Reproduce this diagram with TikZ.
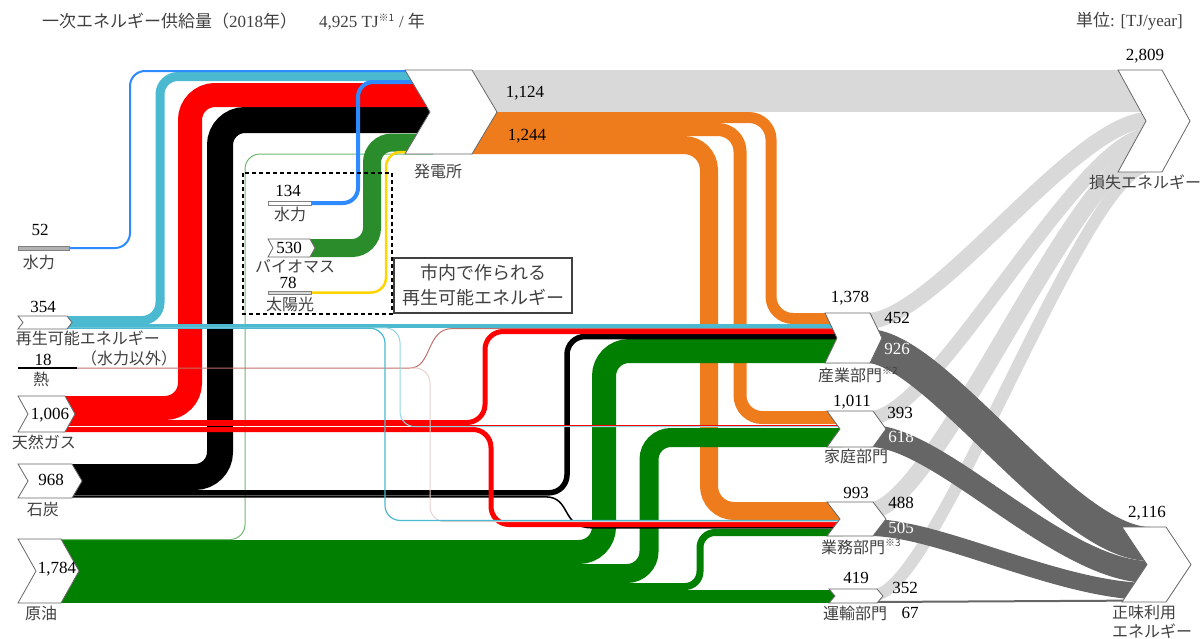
\documentclass[tikz,border=0pt]{standalone}
\usepackage{fontspec}
\setmainfont{Liberation Serif}
\newfontfamily\jp{Noto Sans CJK JP}
\definecolor{elec}{HTML}{EE7B1C}
\definecolor{gas}{HTML}{FF0000}
\definecolor{oil}{HTML}{007F00}
\definecolor{oilthin}{HTML}{6DB86D}
\definecolor{bio}{HTML}{2A8C2A}
\definecolor{renew}{HTML}{4BB9CF}
\definecolor{hydro}{HTML}{2E8BFF}
\definecolor{solar}{HTML}{FFD400}
\definecolor{heat}{HTML}{C0706A}
\definecolor{heatl}{HTML}{E8D0D0}
\definecolor{loss}{HTML}{D9D9D9}
\definecolor{net}{HTML}{666666}
\definecolor{txt}{HTML}{404040}
\tikzset{
 box/.style={draw=gray!80!black,fill=white,line width=0.8pt},
 num/.style={inner sep=0pt,font=\fontsize{17}{19}\selectfont},
 wnum/.style={num,text=white},
 jlbl/.style={inner sep=0pt,text=txt,font=\jp\fontsize{16}{19}\selectfont},
 }
% chevron: name, x, top, bottom, width, depth
\newcommand{\chevron}[6]{%
  \draw[box] (#2,#3) -- (#2+#5,#3) -- (#2+#5+#6,{(#3+#4)/2}) -- (#2+#5,#4)
    -- (#2,#4) -- (#2+#6,{(#3+#4)/2}) -- cycle;
  \coordinate (#1) at ({#2+#5/2},{(#3+#4)/2});}

\begin{document}
\begin{tikzpicture}[x=1pt,y=-1pt]
\useasboundingbox (0,0) rectangle (1204,638);
% power plant -> loss
\draw[loss,line width=42pt] (470,91) -- (1149,91);
% electricity
\draw[elec,line width=11pt,rounded corners=22pt] (470,117.5) -- (771,117.5) -- (771,318.5) -- (840,318.5);
\draw[elec,line width=13pt,rounded corners=22pt] (470,129.5) -- (740,129.5) -- (740,417.5) -- (843,417.5);
\draw[elec,line width=18pt,rounded corners=25pt] (470,145) -- (709,145) -- (709,511) -- (843,511);
% crude oil
\draw[oil,line width=24pt,rounded corners=25pt] (58,552) -- (604,552) -- (604,351) -- (840,351);
\draw[oil,line width=19pt,rounded corners=22pt] (58,573.5) -- (649,573.5) -- (649,437.5) -- (843,437.5);
\draw[oil,line width=7pt,rounded corners=15pt] (58,586.5) -- (700,586.5) -- (700,532.5) -- (843,532.5);
\draw[oil,line width=13pt] (58,596.5) -- (838,596.5);
% coal and gas to power plant
\draw[line width=26pt,rounded corners=25pt] (69,477) -- (220,477) -- (220,120) -- (433,120);
\draw[gas,line width=24pt,rounded corners=25pt] (62,408) -- (190,408) -- (190,95) -- (433,95);
\draw[oilthin,line width=1pt,rounded corners=15pt] (58,539.5) -- (245,539.5) -- (245,154) -- (433,154);
% coal to sectors
\draw[line width=5.5pt,rounded corners=18pt] (69,492.8) -- (567,492.8) -- (567,336.5) -- (840,336.5);
\draw[line width=1.5pt] (69,496.8) -- (545,496.8) .. controls (572,496.8) and (560,527.8) .. (592,527.8) -- (843,527.8);
% gas to sectors
\draw[gas,line width=5pt,rounded corners=18pt] (62,422.5) -- (485,422.5) -- (485,331.5) -- (840,331.5);
\draw[gas,line width=1.5pt] (62,425.5) -- (843,425.5);
\draw[gas,line width=5pt,rounded corners=18pt] (62,429.5) -- (491,429.5) -- (491,524.5) -- (843,524.5);
% heat
\draw[heat,line width=1pt] (75,368) -- (410,368) .. controls (432,368) and (426,328.6) .. (452,328.6) -- (840,328.6);
\draw[heatl,line width=1pt,rounded corners=15pt] (410,368) -- (430,368) -- (430,521.6) -- (843,521.6);
% renewables
\draw[renew,line width=9pt,rounded corners=18pt] (64,320.5) -- (160,320.5) -- (160,76.5) -- (433,76.5);
\draw[renew,line width=4pt] (64,326) -- (840,326);
\draw[renew!60,line width=1pt,rounded corners=15pt] (64,327.8) -- (400,327.8) -- (400,426.7) -- (843,426.7);
\draw[renew,line width=1.2pt,rounded corners=15pt] (64,328.3) -- (385,328.3) -- (385,520.4) -- (843,520.4);
\draw[hydro,line width=2pt,rounded corners=15pt] (69,248) -- (130,248) -- (130,71) -- (433,71);
% local renewables
\draw[bio,line width=18pt,rounded corners=20pt] (307,248) -- (372,248) -- (372,142.5) -- (433,142.5);
\draw[hydro,line width=4pt,rounded corners=15pt] (309,203) -- (358,203) -- (358,82) -- (433,82);
\draw[solar,line width=2.5pt,rounded corners=15pt] (309,292.5) -- (386,292.5) -- (386,152) -- (433,152);
% sectors -> loss
\draw[loss,line width=16pt] (867,321) .. controls (935,321) and (1075,120) .. (1149,120);
\draw[loss,line width=14pt] (870,418) .. controls (935,418) and (1080,135) .. (1149,135);
\draw[loss,line width=17pt] (870,510.5) .. controls (935,510.5) and (1080,151) .. (1149,151);
\draw[loss,line width=12pt] (874,595) .. controls (935,595) and (1085,166) .. (1149,166);
% sectors -> net use
\draw[net,line width=34pt] (867,346) .. controls (935,346) and (1065,544) .. (1150,544);
\draw[net,line width=22pt] (870,436) .. controls (940,436) and (1060,572) .. (1150,572);
\draw[net,line width=17pt] (870,527.5) .. controls (940,527.5) and (1060,591.5) .. (1150,591.5);
\draw[net,line width=2pt] (874,602) -- (1150,600.5);
% nodes
\chevron{pp}{405}{70}{154}{67}{25}
\chevron{ls}{1118}{70}{172}{44}{28}
\chevron{nt}{1122}{527}{602}{44}{25}
\chevron{ind}{825}{313}{363}{45}{12}
\chevron{hh}{827}{411}{447}{46}{13}
\chevron{com}{827}{502}{536}{46}{13}
\chevron{trn}{829}{589}{603}{48}{6}
\chevron{ren}{18}{316}{329}{49}{5}
\chevron{gs}{18}{396}{432}{47}{10}
\chevron{cl}{18}{464}{498}{54}{10}
\chevron{cr}{18}{539}{603}{43}{18}
\chevron{bm}{268}{239}{257}{42}{5}
\draw[fill=gray!60,draw=gray] (18,246) rectangle (69,250);
\draw[line width=1.5pt] (18,368) -- (77,368);
\draw[fill=white,draw=gray] (268,201) rectangle (311,205);
\draw[fill=gray!30,draw=gray] (268,291) rectangle (311,294.5);
\draw[dash pattern=on 4pt off 3pt,line width=1.3pt] (243,173) rectangle (392,314);
\node[draw=darkgray,line width=1.5pt,minimum width=178pt,minimum height=55pt,align=center,
  text=txt,font=\jp\fontsize{18}{25}\selectfont] (note) at (483,285.5) {市内で作られる\\再生可能エネルギー};
% labels
\node[anchor=west,inner sep=0pt,font=\fontsize{17}{19}\selectfont,text=txt] (title) at (42,22)
  {{\jp 一次エネルギー供給量（}2018{\jp 年）}\hspace{22pt}4,925 TJ\textsuperscript{\jp\fontsize{10}{10}\selectfont ※1} / {\jp 年}};
\node[anchor=east,inner sep=0pt,font=\fontsize{17}{19}\selectfont,text=txt] (unit) at (1183,21) {{\jp 単位}: [TJ/year]};
\node[num] (n52) at (40,230) {52};
\node[jlbl] (l52) at (39,262) {水力};
\node[num] (n354) at (43,307) {354};
\node[jlbl] (l354) at (88,338) {再生可能エネルギー};
\node[jlbl] (l354b) at (129,358) {（水力以外）};
\node[num] (n18) at (43,360) {18};
\node[jlbl] (l18) at (41,379) {熱};
\node[num] (n1006) at (50,415) {1,006};
\node[jlbl] (lgas) at (44,442) {天然ガス};
\node[num] (n968) at (51,480) {968};
\node[jlbl] (lcoal) at (43,509) {石炭};
\node[num] (n1784) at (57,569) {1,784};
\node[jlbl] (loil) at (41,613) {原油};
\node[num] (n134) at (288,191) {134};
\node[jlbl] (l134) at (290,214) {水力};
\node[num] (n530) at (289,248) {530};
\node[jlbl] (l530) at (295,266) {バイオマス};
\node[num] (n78) at (288,283) {78};
\node[jlbl] (l78) at (290,304) {太陽光};
\node[jlbl] (lpp) at (438,171) {発電所};
\node[num] (n1124) at (525,93) {1,124};
\node[num] (n1244) at (527,136) {1,244};
\node[num] (n2809) at (1145,56) {2,809};
\node[jlbl] (lls) at (1145,182) {損失エネルギー};
\node[num] (n1378) at (850,298) {1,378};
\node[num] (n452) at (897,318) {452};
\node[wnum] (n926) at (897,349) {926};
\node[jlbl,anchor=west] (lind) at (818,375) {産業部門\textsuperscript{\fontsize{10}{10}\selectfont ※2}};
\node[num] (n1011) at (852,402) {1,011};
\node[num] (n393) at (900,413) {393};
\node[wnum] (n618) at (901,437) {618};
\node[jlbl] (lhh) at (856,456) {家庭部門};
\node[num] (n993) at (856,493) {993};
\node[num] (n488) at (901,503) {488};
\node[wnum] (n505) at (901,528) {505};
\node[jlbl,anchor=west] (lcom) at (821,547) {業務部門\textsuperscript{\fontsize{10}{10}\selectfont ※3}};
\node[num] (n419) at (856,578) {419};
\node[num] (n352) at (905,588) {352};
\node[num] (n67) at (910,613) {67};
\node[jlbl] (ltrn) at (855,613) {運輸部門};
\node[num] (n2116) at (1147,513) {2,116};
\node[jlbl,anchor=west] (lnt) at (1112,612) {正味利用};
\node[jlbl,anchor=west] (lnt2) at (1112,631) {エネルギー};
\end{tikzpicture}
\end{document}
